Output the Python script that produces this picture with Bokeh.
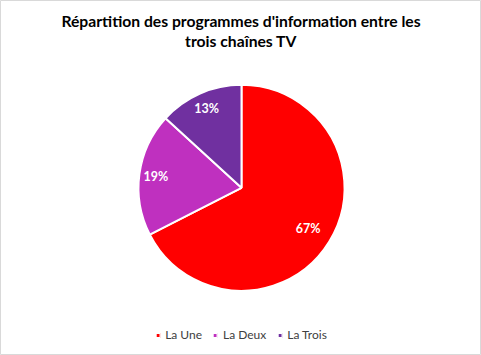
import numpy as np
from bokeh.plotting import figure
from bokeh.models import Range1d, Legend, LegendItem, ColumnDataSource
from bokeh.core.properties import value
from bokeh.embed import file_html
from bokeh.resources import INLINE

# ---- data ----
categories = ["La Une", "La Deux", "La Trois"]
shares = [67.5, 19.3, 13.2]
labels = ["67%", "19%", "13%"]
colors = ["#FF0000", "#BF30BF", "#7030A0"]
title_lines = ["Répartition des programmes d'information entre les", "trois chaînes TV"]

# ---- layout (pixels) ----
W, H = 481, 355
cx, cy, R = 241, H - 187.3, 103
label_r = [0.76, 0.84, 0.84]
FONT = "Lato"

vals = np.array(shares, dtype=float)
frac = vals / vals.sum()
cum_end = np.cumsum(frac)
cum_start = cum_end - frac
start = np.pi / 2 - 2 * np.pi * cum_start
end = np.pi / 2 - 2 * np.pi * cum_end
mid = (start + end) / 2
lx = cx + np.array(label_r) * R * np.cos(mid)
ly = cy + np.array(label_r) * R * np.sin(mid)

src = ColumnDataSource(dict(cat=categories, start=start, end=end, color=colors,
                            lx=lx, ly=ly, lab=labels))

p = figure(width=W, height=H, output_backend="svg", toolbar_location=None,
           x_range=Range1d(0, W), y_range=Range1d(0, H),
           min_border=0, match_aspect=False)
p.axis.visible = False
p.grid.visible = False
p.outline_line_color = "#D9D9D9"
p.outline_line_width = 1
p.background_fill_color = "white"
p.border_fill_color = "white"

renderers = []
for i in range(len(categories)):
    r = p.wedge(x=cx, y=cy, radius=R, start_angle=start[i], end_angle=end[i],
                direction="clock", fill_color=colors[i], line_color="white",
                line_width=2)
    renderers.append(r)

p.text(x="lx", y="ly", text="lab", source=src, text_color="white",
       text_font=value(FONT), text_font_style="bold", text_font_size="12.5px",
       text_align="center", text_baseline="middle")

# title
p.text(x=[W / 2, W / 2], y=[H - 20.5, H - 40], text=title_lines,
       text_color="#000000", text_font=value(FONT), text_font_style="bold",
       text_font_size="15.7px", text_align="center", text_baseline="middle")

legend = Legend(items=[LegendItem(label=c, renderers=[r]) for c, r in zip(categories, renderers)],
                orientation="horizontal", location="bottom_center",
                glyph_width=6, glyph_height=6, label_standoff=5, spacing=10,
                label_text_font=FONT, label_text_font_size="12px",
                label_text_color="#404040", border_line_color=None,
                background_fill_alpha=0, margin=13, padding=2)
p.add_layout(legend, "center")

open("out.html", "w").write(file_html(p, INLINE))
